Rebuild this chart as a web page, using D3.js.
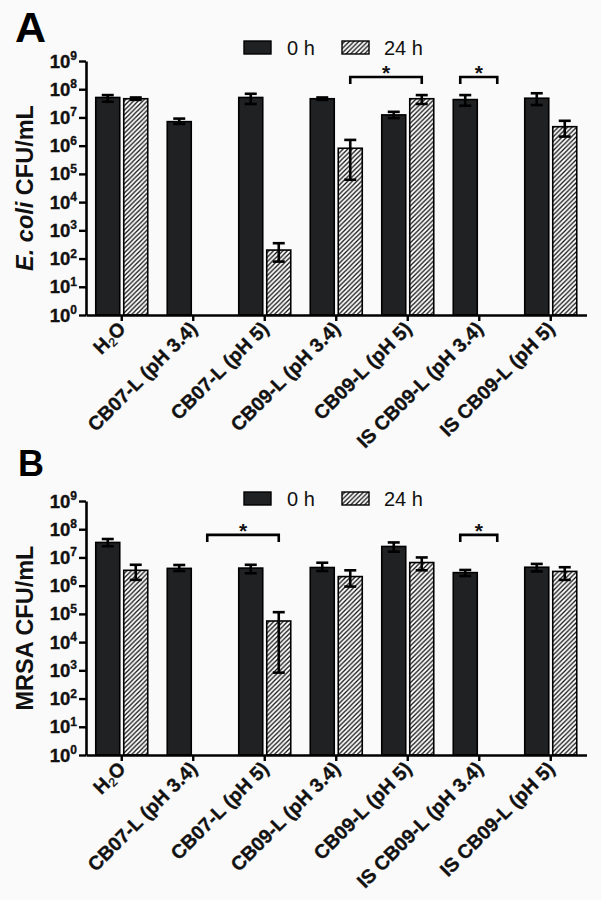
<!DOCTYPE html>
<html>
<head>
<meta charset="utf-8">
<script src="https://cdn.jsdelivr.net/npm/d3@7"></script>
<style>
  html, body { margin: 0; padding: 0; background: #fafafa; }
  svg { display: block; font-family: "Liberation Sans", Arial, sans-serif; }
</style>
</head>
<body>
<svg id="chart" width="601" height="900"></svg>
<script>
// ---------- DATA ----------
const categories = ["H2O", "CB07-L (pH 3.4)", "CB07-L (pH 5)", "CB09-L (pH 3.4)",
                    "CB09-L (pH 5)", "IS CB09-L (pH 3.4)", "IS CB09-L (pH 5)"];
const seriesNames = ["0 h", "24 h"];
const yTickExponents = [0, 1, 2, 3, 4, 5, 6, 7, 8, 9];

// Panel A: E. coli
const ecoli0h      = [5.1e7, 7.1e6, 5.1e7, 4.6e7, 1.23e7, 4.3e7, 4.8e7];
const ecoli0hLow   = [3.6e7, 5.9e6, 3.0e7, 4.2e7, 9.5e6, 2.6e7, 2.75e7];
const ecoli0hHigh  = [6.2e7, 9.1e6, 6.9e7, 5.1e7, 1.58e7, 6.2e7, 7.2e7];
const ecoli24h     = [4.6e7, null, 2.0e2, 8.1e5, 4.6e7, null, 4.7e6];
const ecoli24hLow  = [4.2e7, null, 78, 6.2e4, 3.0e7, null, 2.1e6];
const ecoli24hHigh = [5.1e7, null, 350, 1.6e6, 6.2e7, null, 7.6e6];
const ecoliBrackets = [
  { fromCat: 3, fromSeries: 1, toCat: 4, toSeries: 1, level: 2.7e8 },
  { fromCat: 5, fromSeries: 0, toCat: 5, toSeries: 1, level: 2.7e8 }
];

// Panel B: MRSA
const mrsa0h      = [3.4e7, 4.1e6, 4.2e6, 4.4e6, 2.45e7, 2.9e6, 4.5e6];
const mrsa0hLow   = [2.5e7, 3.3e6, 2.75e6, 3.3e6, 1.6e7, 2.2e6, 3.2e6];
const mrsa0hHigh  = [4.5e7, 5.4e6, 5.5e6, 6.5e6, 3.4e7, 3.6e6, 5.9e6];
const mrsa24h     = [3.5e6, null, 5.6e4, 2.1e6, 6.6e6, null, 3.2e6];
const mrsa24hLow  = [1.6e6, null, 830, 9.3e5, 3.5e6, null, 1.6e6];
const mrsa24hHigh = [5.5e6, null, 1.15e5, 3.5e6, 1.0e7, null, 4.5e6];
const mrsaBrackets = [
  { fromCat: 1, fromSeries: 1, toCat: 2, toSeries: 1, level: 6.3e7 },
  { fromCat: 5, fromSeries: 0, toCat: 5, toSeries: 1, level: 6.3e7 }
];

// ---------- DRAWING ----------
const svg = d3.select("#chart");
const FONT = '"Liberation Sans", Arial, sans-serif';

const defs = svg.append("defs");
const pat = defs.append("pattern")
  .attr("id", "hatch").attr("patternUnits", "userSpaceOnUse")
  .attr("width", 4.6).attr("height", 4.6);
pat.append("rect").attr("width", 4.6).attr("height", 4.6).attr("fill", "#ffffff");
pat.append("path")
  .attr("d", "M-1,1 L1,-1 M0,4.6 L4.6,0 M3.6,5.6 L5.6,3.6")
  .attr("stroke", "#111").attr("stroke-width", 1.3);

function buildRows(v0, l0, h0, v1, l1, h1) {
  const rows = [];
  categories.forEach((c, i) => {
    rows.push({ cat: c, ci: i, s: 0, v: v0[i], lo: l0[i], hi: h0[i] });
    rows.push({ cat: c, ci: i, s: 1, v: v1[i], lo: l1[i], hi: h1[i] });
  });
  return rows;
}

function drawPanel(cfg) {
  const g = svg.append("g").attr("transform", `translate(0,${cfg.offsetY})`);
  const x0 = 86, x1End = 586.5, yTop = 61, yBot = 315;

  const x = d3.scaleBand().domain(categories).range([x0, x1End]).padding(0);
  const xs = d3.scaleBand().domain(seriesNames).range([-26, 26]).paddingInner(0.143);
  const y = d3.scaleLog().domain([1, 1e9]).range([yBot, yTop]);

  const cx = (ci, s) => x(categories[ci]) + x.bandwidth() / 2 + xs(seriesNames[s]) + xs.bandwidth() / 2;

  const rows = cfg.rows.filter(r => r.v != null);

  // bars
  g.selectAll("rect.bar").data(rows).join("rect")
    .attr("class", "bar")
    .attr("x", r => x(r.cat) + x.bandwidth() / 2 + xs(seriesNames[r.s]))
    .attr("width", xs.bandwidth())
    .attr("y", r => y(r.v))
    .attr("height", r => y(1) - y(r.v))
    .attr("fill", r => r.s === 0 ? "#1f2123" : "url(#hatch)")
    .attr("stroke", "#000").attr("stroke-width", 1.6);

  // error bars
  const eb = g.selectAll("g.err").data(rows).join("g").attr("class", "err")
    .attr("stroke", "#000").attr("stroke-width", 2.6).attr("fill", "none");
  eb.append("line")
    .attr("x1", r => cx(r.ci, r.s)).attr("x2", r => cx(r.ci, r.s))
    .attr("y1", r => y(r.lo)).attr("y2", r => y(r.hi));
  eb.append("line")
    .attr("x1", r => cx(r.ci, r.s) - 6).attr("x2", r => cx(r.ci, r.s) + 6)
    .attr("y1", r => y(r.lo)).attr("y2", r => y(r.lo));
  eb.append("line")
    .attr("x1", r => cx(r.ci, r.s) - 6).attr("x2", r => cx(r.ci, r.s) + 6)
    .attr("y1", r => y(r.hi)).attr("y2", r => y(r.hi));

  // axes
  const yAxis = d3.axisLeft(y)
    .tickValues(yTickExponents.map(e => Math.pow(10, e)))
    .tickFormat("").tickSize(7).tickSizeOuter(0);
  const ya = g.append("g").attr("transform", `translate(${x0},0)`).call(yAxis);
  ya.select(".domain").attr("stroke", "#000").attr("stroke-width", 2.6);
  ya.selectAll(".tick line").attr("stroke", "#000").attr("stroke-width", 2.4);

  const xAxis = d3.axisBottom(x).tickFormat("").tickSize(6).tickSizeOuter(0);
  const xa = g.append("g").attr("transform", `translate(0,${yBot})`).call(xAxis);
  xa.select(".domain").attr("stroke", "#000").attr("stroke-width", 2.6);
  xa.selectAll(".tick line").attr("stroke", "#000").attr("stroke-width", 2.4);

  // y tick labels 10^n
  const yl = g.selectAll("text.ytl").data(yTickExponents).join("text")
    .attr("class", "ytl")
    .attr("x", 77).attr("y", e => y(Math.pow(10, e)) + 6.5)
    .attr("text-anchor", "end")
    .attr("font-family", FONT).attr("font-weight", "bold").attr("font-size", 18.5)
    .attr("fill", "#111").attr("stroke", "#111").attr("stroke-width", 0.35);
  yl.append("tspan").text("10");
  yl.append("tspan").attr("font-size", 12).attr("dy", -7.5).text(e => e);

  // x tick labels
  const xl = g.selectAll("text.xtl").data(categories).join("text")
    .attr("class", "xtl")
    .attr("transform", c => `translate(${x(c) + x.bandwidth() / 2 + 5},${yBot + 15}) rotate(-45)`)
    .attr("text-anchor", "end")
    .attr("font-family", FONT).attr("font-weight", "bold").attr("font-size", 19.5)
    .attr("fill", "#111").attr("stroke", "#111").attr("stroke-width", 0.35);
  xl.each(function (c) {
    const t = d3.select(this);
    if (c === "H2O") {
      t.append("tspan").text("H");
      t.append("tspan").attr("font-size", 12).attr("font-weight", "normal").attr("dy", 3).text("2");
      t.append("tspan").attr("dy", -3).text("O");
    } else {
      t.text(c);
    }
  });

  // y axis title
  const yt = g.append("text")
    .attr("transform", `translate(33,${(yTop + yBot) / 2}) rotate(-90)`)
    .attr("text-anchor", "middle")
    .attr("font-family", FONT).attr("font-weight", "bold").attr("font-size", 23.5)
    .attr("fill", "#111");
  cfg.yTitle.forEach(p => {
    yt.append("tspan").attr("font-style", p.italic ? "italic" : "normal").text(p.t);
  });

  // panel letter
  g.append("text").attr("x", cfg.letterX).attr("y", cfg.letterY)
    .attr("font-family", FONT).attr("font-weight", "bold").attr("font-size", cfg.letterSize)
    .attr("fill", "#000").text(cfg.letter);

  // legend
  const lg = g.append("g").attr("transform", `translate(244,${cfg.legendY})`);
  lg.append("rect").attr("x", 0).attr("y", 0).attr("width", 27).attr("height", 13)
    .attr("fill", "#1f2123").attr("stroke", "#000").attr("stroke-width", 1.4);
  lg.append("text").attr("x", 43).attr("y", 13.5)
    .attr("font-family", FONT).attr("font-size", 20).attr("fill", "#111").text(seriesNames[0]);
  lg.append("rect").attr("x", 98).attr("y", 0).attr("width", 27).attr("height", 13)
    .attr("fill", "url(#hatch)").attr("stroke", "#000").attr("stroke-width", 1.4);
  lg.append("text").attr("x", 140).attr("y", 13.5)
    .attr("font-family", FONT).attr("font-size", 20).attr("fill", "#111").text(seriesNames[1]);

  // significance brackets
  cfg.brackets.forEach(b => {
    const same = b.fromCat === b.toCat;
    const xa1 = cx(b.fromCat, b.fromSeries) - (same ? 5 : 0);
    const xa2 = cx(b.toCat, b.toSeries) + (same ? 4 : 0);
    const yb = y(b.level);
    g.append("path")
      .attr("d", `M${xa1},${yb + 7} L${xa1},${yb} L${xa2},${yb} L${xa2},${yb + 7}`)
      .attr("fill", "none").attr("stroke", "#000").attr("stroke-width", 2.6);
    g.append("text").attr("x", (xa1 + xa2) / 2).attr("y", yb + 3)
      .attr("text-anchor", "middle")
      .attr("font-family", FONT).attr("font-weight", "bold").attr("font-size", 21)
      .attr("fill", "#111").text("*");
  });
}

drawPanel({
  offsetY: 0,
  rows: buildRows(ecoli0h, ecoli0hLow, ecoli0hHigh, ecoli24h, ecoli24hLow, ecoli24hHigh),
  brackets: ecoliBrackets,
  yTitle: [{ t: "E. coli", italic: true }, { t: " CFU/mL", italic: false }],
  letter: "A", letterX: 15, letterY: 42, letterSize: 43,
  legendY: 41
});
drawPanel({
  offsetY: 440,
  rows: buildRows(mrsa0h, mrsa0hLow, mrsa0hHigh, mrsa24h, mrsa24hLow, mrsa24hHigh),
  brackets: mrsaBrackets,
  yTitle: [{ t: "MRSA CFU/mL", italic: false }],
  letter: "B", letterX: 18, letterY: 36, letterSize: 36,
  legendY: 52
});
</script>
</body>
</html>
